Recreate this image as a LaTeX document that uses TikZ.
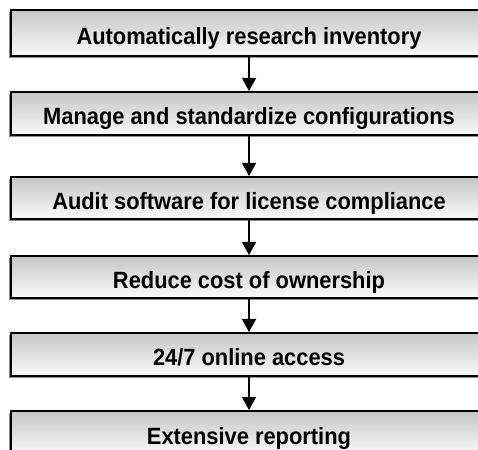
\documentclass[tikz,border=0pt]{standalone}
\usepackage{fontspec}
\setmainfont{Liberation Sans}
\newfontfamily\boxfont[FakeStretch=0.93]{Liberation Sans}
\usetikzlibrary{arrows.meta,shadows}
\definecolor{boxtop}{RGB}{198,198,198}
\definecolor{boxbot}{RGB}{250,250,250}
\begin{document}
\begin{tikzpicture}[x=1pt,y=1pt,
  stepbox/.style={draw=black, line width=2pt, minimum width=476pt, minimum height=44pt,
    inner sep=0pt, text height=23pt, text depth=0pt, top color=boxtop, bottom color=boxbot,
    font=\boxfont\bfseries\fontsize{23.5}{26}\selectfont,
    drop shadow={shadow xshift=-2pt, shadow yshift=-2pt, fill=black!45, opacity=1}},
  flow/.style={line width=1.5pt, -{Triangle[length=13pt,width=14pt]}}]
\useasboundingbox (0,0) rectangle (478,449);
\clip (0,0) rectangle (478,449);
\node[stepbox, minimum height=46pt] (s1) at (249,416) {Automatically research inventory};
\node[stepbox, minimum height=43pt] (s2) at (249,335.5) {Manage and standardize configurations};
\node[stepbox, minimum height=42pt] (s3) at (249,251) {Audit software for license compliance};
\node[stepbox, minimum height=42pt] (s4) at (249,172) {Reduce cost of ownership};
\node[stepbox, minimum height=43pt] (s5) at (249,94.5) {24/7 online access};
\node[stepbox, minimum height=44pt] (s6) at (249,16) {Extensive reporting};
\draw[flow] (s1) -- (s2);
\draw[flow] (s2) -- (s3);
\draw[flow] (s3) -- (s4);
\draw[flow] (s4) -- (s5);
\draw[flow] (s5) -- (s6);
\end{tikzpicture}
\end{document}
